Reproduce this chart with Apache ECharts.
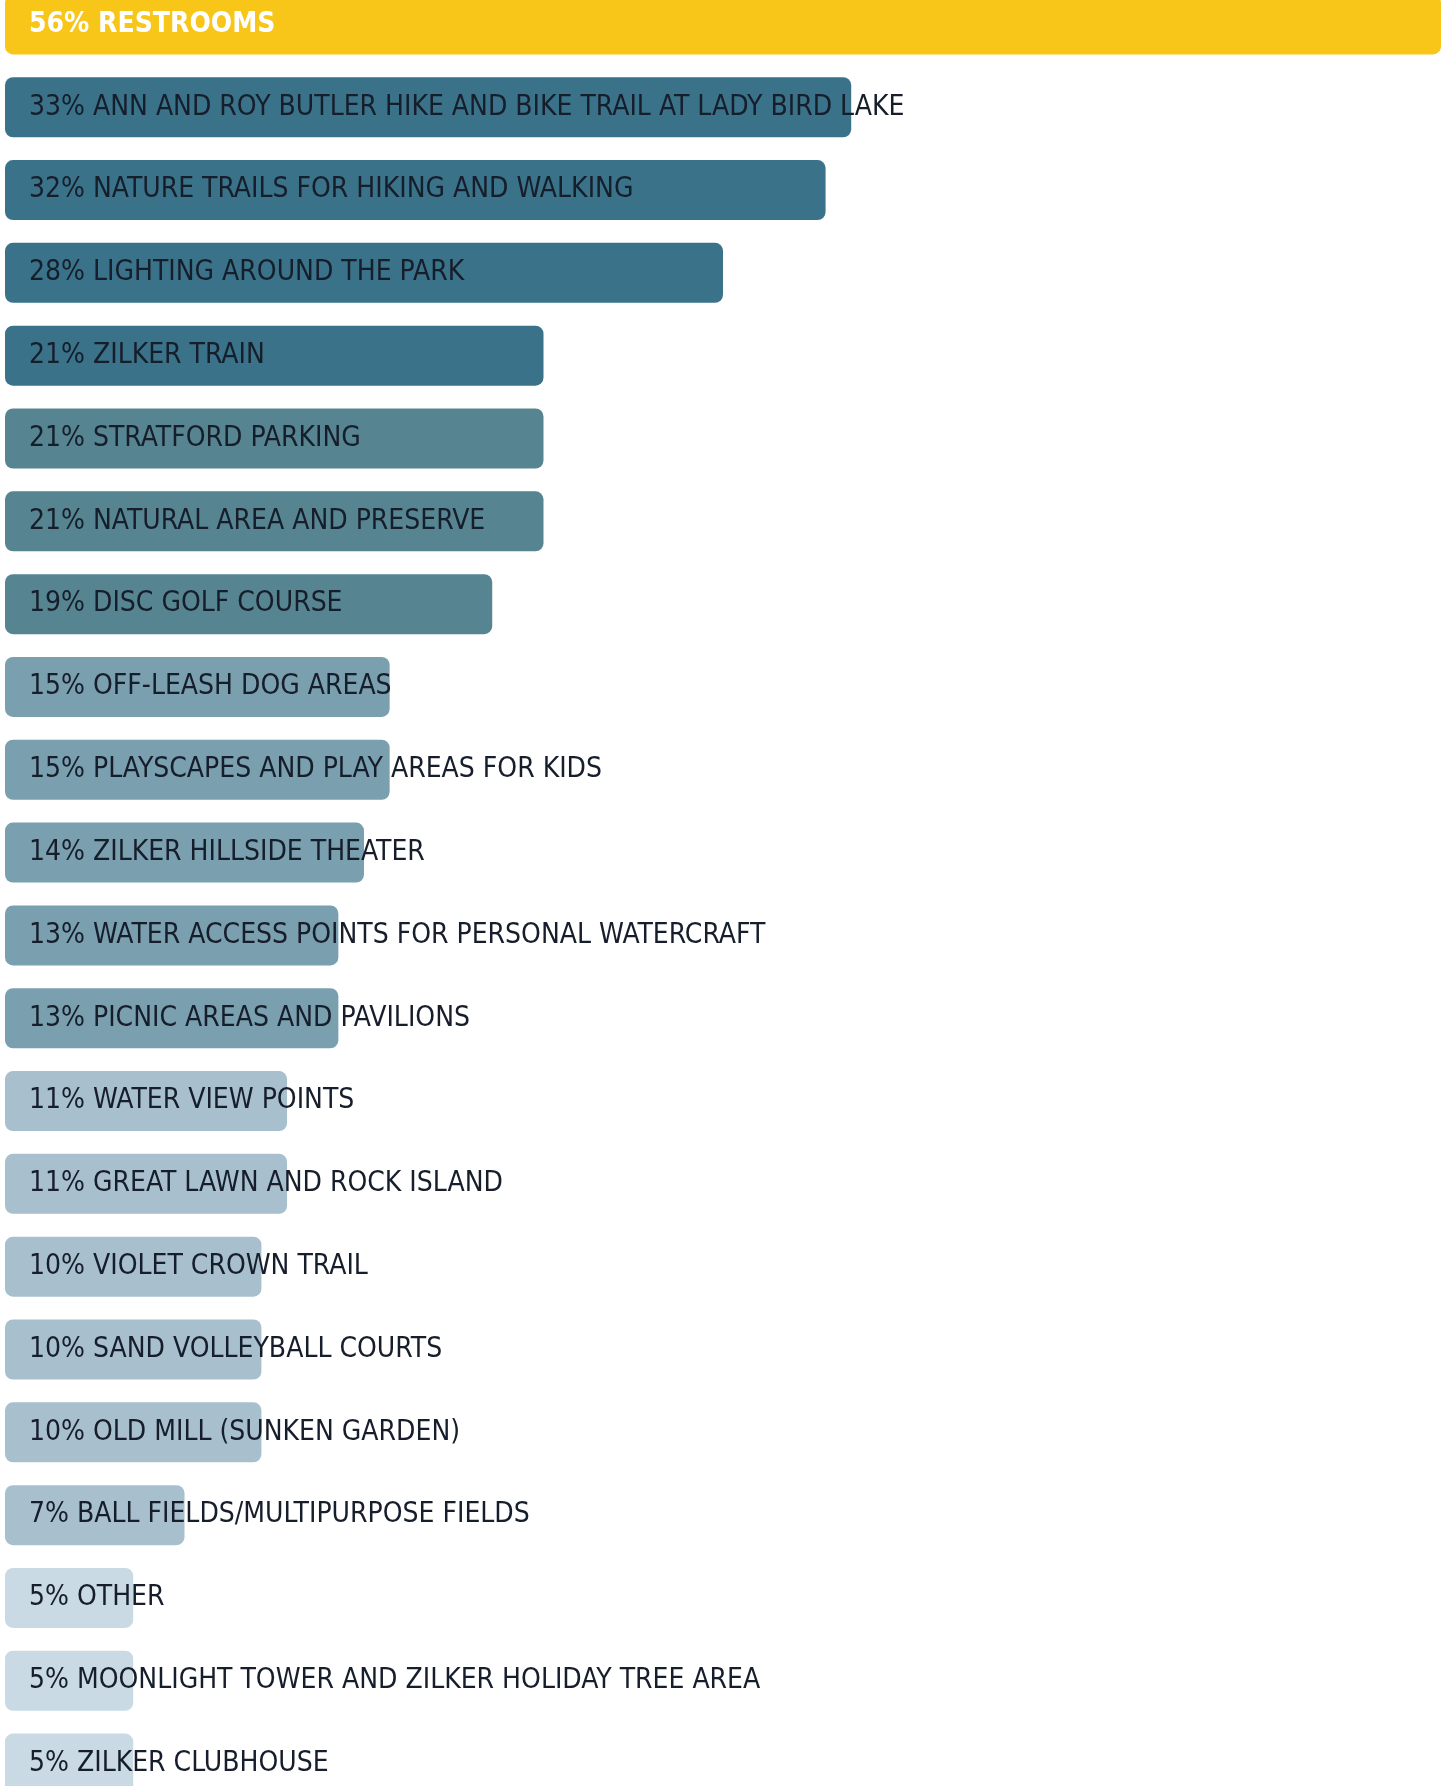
<!DOCTYPE html>
<html>
<head>
<meta charset="utf-8">
<script src="https://cdn.jsdelivr.net/npm/echarts@6/dist/echarts.min.js"></script>
<style>
html,body{margin:0;padding:0;background:#fff;overflow:hidden;width:1446px;height:1786px;}
#chart{width:1446px;height:1822px;margin-top:-17px;}
</style>
</head>
<body>
<div id="chart"></div>
<script>
const categories = [
  "RESTROOMS",
  "ANN AND ROY BUTLER HIKE AND BIKE TRAIL AT LADY BIRD LAKE",
  "NATURE TRAILS FOR HIKING AND WALKING",
  "LIGHTING AROUND THE PARK",
  "ZILKER TRAIN",
  "STRATFORD PARKING",
  "NATURAL AREA AND PRESERVE",
  "DISC GOLF COURSE",
  "OFF-LEASH DOG AREAS",
  "PLAYSCAPES AND PLAY AREAS FOR KIDS",
  "ZILKER HILLSIDE THEATER",
  "WATER ACCESS POINTS FOR PERSONAL WATERCRAFT",
  "PICNIC AREAS AND PAVILIONS",
  "WATER VIEW POINTS",
  "GREAT LAWN AND ROCK ISLAND",
  "VIOLET CROWN TRAIL",
  "SAND VOLLEYBALL COURTS",
  "OLD MILL (SUNKEN GARDEN)",
  "BALL FIELDS/MULTIPURPOSE FIELDS",
  "OTHER",
  "MOONLIGHT TOWER AND ZILKER HOLIDAY TREE AREA",
  "ZILKER CLUBHOUSE"
];
const values = [56, 33, 32, 28, 21, 21, 21, 19, 15, 15, 14, 13, 13, 11, 11, 10, 10, 10, 7, 5, 5, 5];

// colour tiers (style): last index covered by each colour
const tiers = [
  { upTo: 0,  color: "#F8C519" },
  { upTo: 4,  color: "#3A7389" },
  { upTo: 7,  color: "#568591" },
  { upTo: 12, color: "#7A9FAF" },
  { upTo: 18, color: "#A8C0CE" },
  { upTo: 21, color: "#C9DAE4" }
];
function tierColor(i){ for (const t of tiers) if (i <= t.upTo) return t.color; return tiers[tiers.length-1].color; }

const FONT = "'DejaVu Sans Condensed', 'Liberation Sans Narrow', sans-serif";

const chart = echarts.init(document.getElementById('chart'), null, {renderer:'canvas'});
chart.setOption({
  animation: false,
  backgroundColor: '#ffffff',
  grid: { left: 5, right: 5, top: 0, bottom: 0, containLabel: false },
  xAxis: { type: 'value', min: 0, max: 56, show: false },
  yAxis: { type: 'category', data: categories, inverse: true, show: false },
  series: [{
    type: 'bar',
    barWidth: 60,
    data: values.map((v, i) => ({
      value: v,
      itemStyle: { color: tierColor(i), borderRadius: 8 },
      label: i === 0 ? { color: '#ffffff', fontWeight: 'bold' } : {}
    })),
    label: {
      show: true,
      position: 'insideLeft',
      distance: 24,
      color: '#161d2b',
      fontFamily: FONT,
      fontSize: 28,
      formatter: p => p.value + '% ' + categories[p.dataIndex]
    }
  }]
});
</script>
</body>
</html>
